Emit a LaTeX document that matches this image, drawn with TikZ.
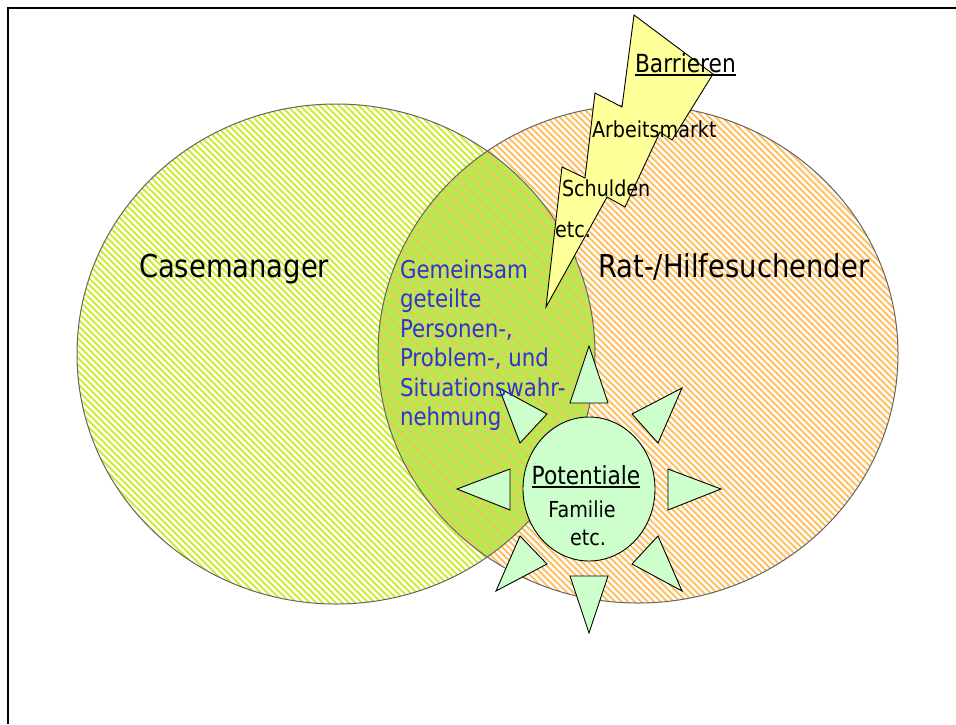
\documentclass[tikz,border=0pt]{standalone}
\usepackage{fontspec}
\setmainfont{DejaVu Sans}[FakeStretch=0.87]
\definecolor{leftstripe}{RGB}{204,238,50}
\definecolor{rightstripe}{RGB}{255,192,96}
\definecolor{lensstripe}{RGB}{250,190,100}
\definecolor{lensgreen}{RGB}{182,234,78}
\definecolor{boltyellow}{RGB}{255,255,153}
\definecolor{potgreen}{RGB}{204,255,204}
\definecolor{textblue}{RGB}{51,51,204}
\definecolor{rimgray}{RGB}{100,100,100}
\begin{document}
\begin{tikzpicture}[x=1pt,y=-1pt,line join=miter,
  txt/.style={inner sep=0pt,outer sep=0pt,anchor=base west,text=black},
  bigtxt/.style={txt,font=\fontsize{31.5}{36}\selectfont},
  bluetxt/.style={txt,text=textblue,font=\fontsize{24.5}{29}\selectfont},
  smalltxt/.style={txt,font=\fontsize{22}{26}\selectfont},
  tri/.style={draw=black,fill=potgreen,line width=0.9pt},
  rim/.style={draw=rimgray,line width=1pt}]
\useasboundingbox (0,0) rectangle (956,724);
\fill[white] (0,0) rectangle (956,724);
% left circle
\begin{scope}
  \clip (336,354) ellipse [x radius=259pt, y radius=250pt];
  \fill[white] (70,100) rectangle (600,610);
  \foreach \c in {-540,-533.5,...,500}
    \draw[leftstripe,line width=1.8pt] (\c+95,95) -- (\c+620,620);
\end{scope}
% right circle
\begin{scope}
  \clip (638,354) ellipse [x radius=260pt, y radius=249pt];
  \fill[white] (370,100) rectangle (905,610);
  \foreach \c in {-240,-233.5,...,800}
    \draw[rightstripe,line width=1.8pt] (\c+95,95) -- (\c+620,620);
\end{scope}
% lens
\begin{scope}
  \clip (336,354) ellipse [x radius=259pt, y radius=250pt];
  \clip (638,354) ellipse [x radius=260pt, y radius=249pt];
  \fill[lensgreen] (370,100) rectangle (600,610);
  \foreach \c in {-240,-227,...,500}
    \draw[lensstripe,line width=1.6pt] (\c+95,95) -- (\c+620,620);
\end{scope}
\draw[rim] (336,354) ellipse [x radius=259pt, y radius=250pt];
\draw[rim] (638,354) ellipse [x radius=260pt, y radius=249pt];
% frame
\draw[black,line width=2pt] (956,8) -- (8,8) -- (8,724);
% bolt
\filldraw[draw=black,fill=boltyellow,line width=0.9pt]
  (634,15) -- (713,74) -- (672,140) -- (660,132) -- (625,207) -- (607,197)
  -- (546,307) -- (562,167) -- (585,178) -- (595,93) -- (622,107) -- cycle;
% triangles
\filldraw[tri] (589,346) -- (570,403) -- (608,403) -- cycle;
\filldraw[tri] (589,633) -- (570,576) -- (608,576) -- cycle;
\filldraw[tri] (457,489) -- (510,469) -- (510,510) -- cycle;
\filldraw[tri] (721,489) -- (668,469) -- (668,510) -- cycle;
\filldraw[tri] (499,388) -- (547,414) -- (520,443) -- cycle;
\filldraw[tri] (682,388) -- (632,414) -- (658,443) -- cycle;
\filldraw[tri] (496,591) -- (520,536) -- (547,564) -- cycle;
\filldraw[tri] (682,591) -- (658,536) -- (632,564) -- cycle;
% potentiale circle
\filldraw[draw=black,fill=potgreen,line width=0.9pt] (589,489) ellipse [x radius=66pt, y radius=72pt];
% texts
\node[bigtxt] (cm) at (139,277) {Casemanager};
\node[bigtxt] (rh) at (598,277) {Rat-/Hilfesuchender};
\node[bluetxt] (b1) at (400,278) {Gemeinsam};
\node[bluetxt] (b2) at (400,307.5) {geteilte};
\node[bluetxt] (b3) at (400,337) {Personen-,};
\node[bluetxt] (b4) at (400,366.5) {Problem-, und};
\node[bluetxt] (b5) at (400,396) {Situationswahr-};
\node[bluetxt] (b6) at (400,425.5) {nehmung};
\node[txt,font=\fontsize{25}{30}\selectfont] (bar) at (635,72) {Barrieren};
\draw[line width=1.8pt] ([yshift=-2.8pt]bar.base west) -- ([yshift=-2.8pt]bar.base east);
\node[smalltxt] (am) at (592,137) {Arbeitsmarkt};
\node[smalltxt] (sd) at (562,196) {Schulden};
\node[smalltxt] (et1) at (555,237) {etc.};
\node[txt,font=\fontsize{25}{30}\selectfont,anchor=base] (pot) at (586,484) {Potentiale};
\draw[line width=1.8pt] ([yshift=-2.8pt]pot.base west) -- ([yshift=-2.8pt]pot.base east);
\node[smalltxt,anchor=base] (fam) at (582,517) {Familie};
\node[smalltxt,anchor=base] (et2) at (588,545) {etc.};
\end{tikzpicture}
\end{document}
